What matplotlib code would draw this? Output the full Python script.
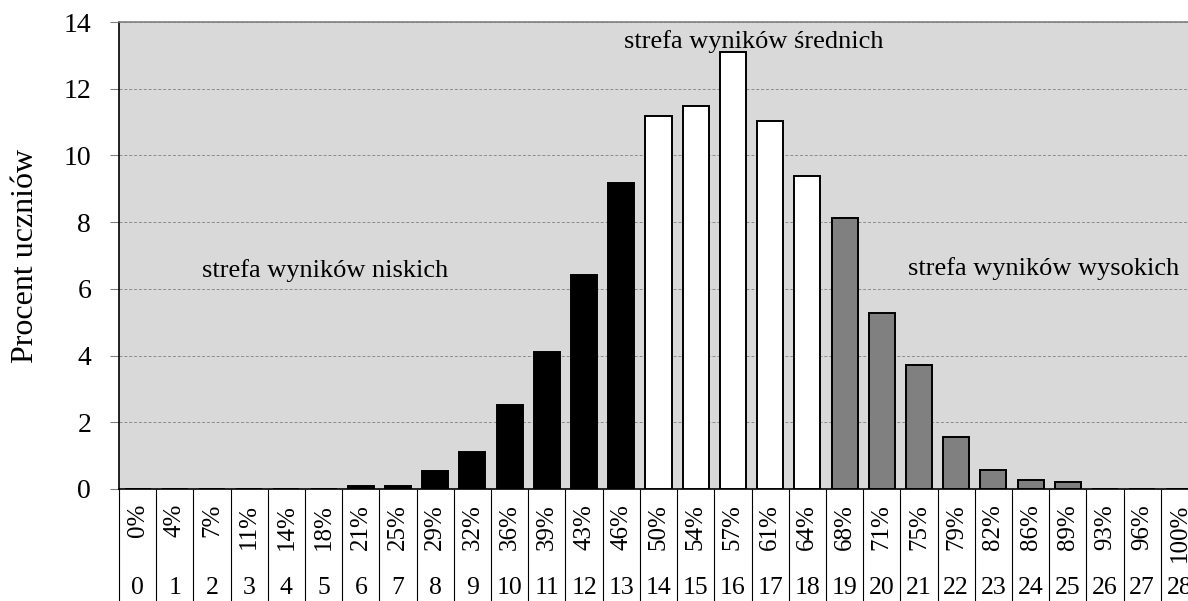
import numpy as np
import matplotlib
matplotlib.use("Agg")
import matplotlib.pyplot as plt
import matplotlib.transforms as mtransforms

plt.rcParams["font.family"] = ["Liberation Serif", "DejaVu Serif"]

# points scored (0..28) and share of max score
points = list(range(29))
pct_labels = ["0%", "4%", "7%", "11%", "14%", "18%", "21%", "25%", "29%", "32%",
              "36%", "39%", "43%", "46%", "50%", "54%", "57%", "61%", "64%", "68%",
              "71%", "75%", "79%", "82%", "86%", "89%", "93%", "96%", "100%"]
# percent of students per score
students_pct = [0, 0, 0, 0, 0, 0, 0.08, 0.08, 0.53, 1.12,
                2.53, 4.10, 6.42, 9.17, 11.17, 11.47, 13.11, 11.02, 9.38, 8.11,
                5.28, 3.72, 1.56, 0.58, 0.28, 0.21, 0, 0, 0]
# zone of each score: low / medium / high
zones = ["low"] * 14 + ["mid"] * 5 + ["high"] * 10
zone_colors = {"low": "black", "mid": "white", "high": "#808080"}

fig = plt.figure(figsize=(11.88, 6.01), dpi=100)
ax = fig.add_axes([119 / 1188, 112 / 601, 1079 / 1188, 467 / 601])
ax.set_facecolor("#d9d9d9")

colors = [zone_colors[z] for z in zones]
ax.bar(points, students_pct, width=0.7, color=colors, edgecolor="black",
       linewidth=1.4, zorder=3)

ax.set_xlim(-0.5, 28.5)
ax.set_ylim(0, 14)
ax.set_yticks(np.arange(0, 15, 2))
ax.tick_params(axis="y", labelsize=20, length=6.5, color="#808080", pad=13.5)
ax.set_xticks([])
ax.yaxis.grid(True, linestyle=(0, (3, 2)), color="#8c8c8c", linewidth=0.7, zorder=0)

ax.spines["right"].set_visible(False)
ax.spines["top"].set_color("#808080")
ax.spines["top"].set_linewidth(1.2)
ax.spines["left"].set_linewidth(1.2)
ax.spines["bottom"].set_linewidth(1.2)

ax.set_ylabel("Procent uczniów", fontsize=23)
ax.yaxis.set_label_coords(-0.073, 0.5)

# table-like category axis under the bars
trans = mtransforms.blended_transform_factory(ax.transData, ax.transAxes)
edges = np.arange(-0.5, 29.0, 1.0)
ax.vlines(edges, -0.245, 0, transform=trans, colors="black", linewidth=0.8,
          clip_on=False)
for p, lab in zip(points, pct_labels):
    ax.text(p, -0.032, lab, transform=trans, rotation=90, ha="center", va="top",
            fontsize=18, clip_on=False)
    ax.text(p, -0.212, str(p), transform=trans, ha="center", va="center",
            fontsize=18.5, clip_on=False)

ax.text(5.05, 6.55, "strefa wyników niskich", ha="center", va="center",
        fontsize=19, zorder=4)
ax.text(16.55, 13.42, "strefa wyników średnich", ha="center", va="center",
        fontsize=19, zorder=4)
ax.text(24.35, 6.6, "strefa wyników wysokich", ha="center", va="center",
        fontsize=19, zorder=4)

fig.savefig("out.png", dpi=100)
